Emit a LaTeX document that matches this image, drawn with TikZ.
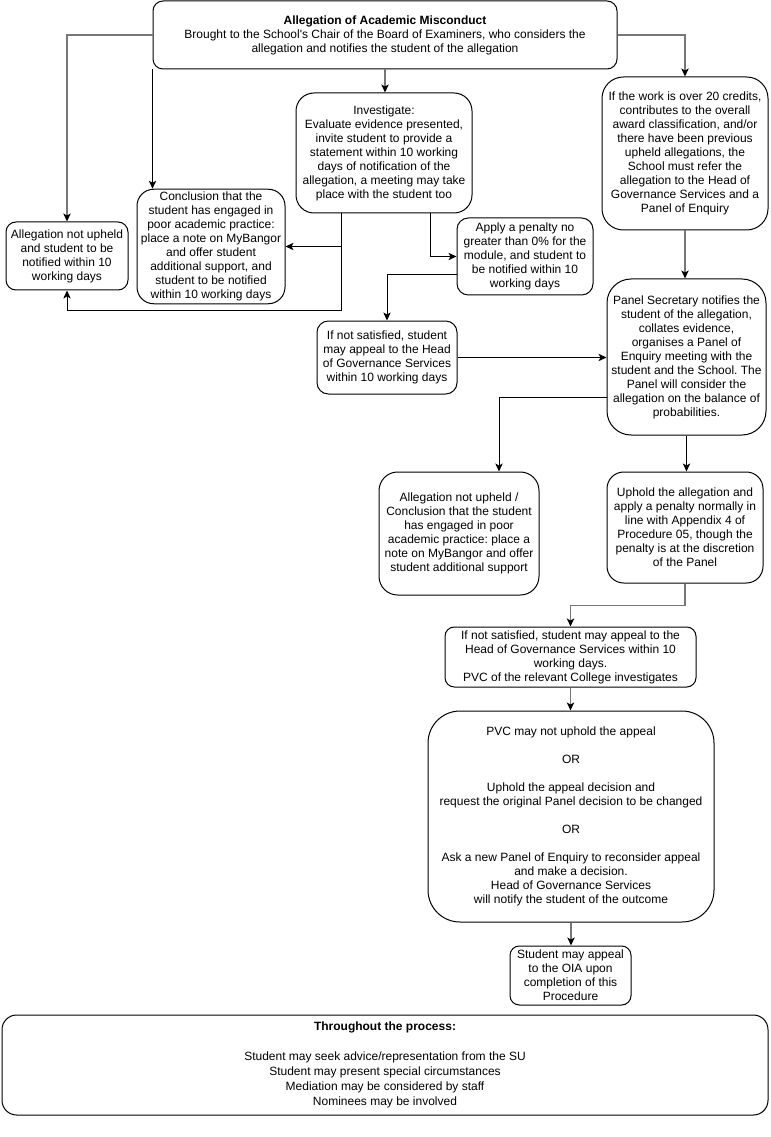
\documentclass[tikz,border=0pt]{standalone}
\usepackage{fontspec}
\setmainfont{Liberation Sans}
\usepackage{xcolor}
\usetikzlibrary{calc,arrows.meta,positioning}
\definecolor{linkc}{HTML}{777777}
\frenchspacing
\tikzset{
  ar/.style={-{Stealth[length=6pt,width=5.5pt,inset=1.5pt,color=black]},line width=0.75pt,black},
  gar/.style={ar,line width=1.1pt,linkc},
  box/.style={draw=black,line width=0.75pt,rounded corners=#1,align=center,inner sep=2pt,
    font=\fontsize{9}{10.5}\selectfont},
  box/.default=7.5pt
}
\begin{document}
\begin{tikzpicture}[x=0.75pt,y=-0.75pt]
\useasboundingbox (0,0) rectangle (770,1137);
% boxes
\node[box,minimum width=464*0.75pt,minimum height=68*0.75pt] (misc) at (385,35)
  {\textbf{Allegation of Academic Misconduct}\\Brought to the School\textquotesingle s Chair of the Board of Examiners, who considers the\\allegation and notifies the student of the allegation};
\node[box=13.5pt,minimum width=176*0.75pt,minimum height=120*0.75pt] (invest) at (384,153)
  {Investigate:\\Evaluate evidence presented,\\invite student to provide a\\statement within 10 working\\days of notification of the\\allegation, a meeting may take\\place with the student too};
\node[box=16pt,minimum width=166*0.75pt,minimum height=153*0.75pt] (refer) at (685,153.5)
  {If the work is over 20 credits,\\contributes to the overall\\award classification, and/or\\there have been previous\\upheld allegations, the\\School must refer the\\allegation to the Head of\\Governance Services and a\\Panel of Enquiry};
\node[box=12.5pt,minimum width=148*0.75pt,minimum height=111*0.75pt] (poor) at (211,246.5)
  {Conclusion that the\\student has engaged in\\poor academic practice:\\place a note on MyBangor\\and offer student\\additional support, and\\student to be notified\\within 10 working days};
\node[box,minimum width=122*0.75pt,minimum height=68*0.75pt] (notup) at (67,256)
  {Allegation not upheld\\and student to be\\notified within 10\\working days};
\node[box=8.5pt,minimum width=136*0.75pt,minimum height=77*0.75pt] (penalty) at (525,256.5)
  {Apply a penalty no\\greater than 0\% for the\\module, and student to\\be notified within 10\\working days};
\node[box=8.5pt,minimum width=140*0.75pt,minimum height=73*0.75pt] (appealA) at (387,357.5)
  {If not satisfied, student\\may appeal to the Head\\of Governance Services\\within 10 working days};
\node[box=18pt,minimum width=159*0.75pt,minimum height=156*0.75pt] (panel) at (686.5,357)
  {Panel Secretary notifies the\\student of the allegation,\\collates evidence,\\organises a Panel of\\Enquiry meeting with the\\student and the School. The\\Panel will consider the\\allegation on the balance of\\probabilities.};
\node[box=14pt,minimum width=160*0.75pt,minimum height=123*0.75pt] (notupB) at (459,533.5)
  {Allegation not upheld /\\Conclusion that the student\\has engaged in poor\\academic practice: place a\\note on MyBangor and offer\\student additional support};
\node[box=12.5pt,minimum width=156*0.75pt,minimum height=111*0.75pt] (uphold) at (685,527.5)
  {Uphold the allegation and\\apply a penalty normally in\\line with Appendix 4 of\\Procedure 05, though the\\penalty is at the discretion\\of the Panel};
\node[box=7pt,minimum width=251*0.75pt,minimum height=60*0.75pt] (appealB) at (570.5,657)
  {If not satisfied, student may appeal to the\\Head of Governance Services within 10\\working days.\\PVC of the relevant College investigates};
\node[box=24pt,minimum width=286*0.75pt,minimum height=211*0.75pt] (pvc) at (571,816.5)
  {PVC may not uphold the appeal\\[10.5pt]OR\\[10.5pt]Uphold the appeal decision and\\request the original Panel decision to be changed\\[10.5pt]OR\\[10.5pt]Ask a new Panel of Enquiry to reconsider appeal\\and make a decision.\\Head of Governance Services\\will notify the student of the outcome};
\node[box=7pt,minimum width=121*0.75pt,minimum height=59*0.75pt] (oia) at (570.5,975.5)
  {Student may appeal\\to the OIA upon\\completion of this\\Procedure};
\node[box=11pt,minimum width=766*0.75pt,minimum height=100*0.75pt,font=\fontsize{9}{11.25}\selectfont] (through) at (385,1065)
  {\textbf{Throughout the process:}\\[11.25pt]Student may seek advice/representation from the SU\\Student may present special circumstances\\Mediation may be considered by staff\\Nominees may be involved};
% connectors
\draw[gar] (misc.west) -| (notup.north);
\draw[ar] (misc.south west) -- (misc.south west |- poor.north);
\draw[gar] (misc.south) -- (misc.south |- invest.north);
\draw[gar] (misc.east) -| (refer.north);
\draw[ar] ($(invest.south)+(-43,0)$) |- (poor.east);
\draw[ar] ($(invest.south)+(-43,0)$) |- ($(notup.south)+(0,20)$) -- (notup.south);
\draw[ar] ($(invest.south)+(46,0)$) |- (penalty.west);
\draw[ar] ($(penalty.west)+(0,18)$) -| (appealA.north);
\draw[ar] (appealA.east) -- (appealA.east -| panel.west);
\draw[gar] (refer.south) -- (refer.south |- panel.north);
\draw[ar] ($(panel.west)+(0,40)$) -| ($(notupB.north)+(40,0)$);
\draw[ar] (panel.south) -- (panel.south |- uphold.north);
\draw[gar] (uphold.south) -- ++(0,22) -| (appealB.north);
\draw[gar] (appealB.south) -- (appealB.south |- pvc.north);
\draw[gar] (pvc.south) -- (pvc.south |- oia.north);
\end{tikzpicture}
\end{document}
